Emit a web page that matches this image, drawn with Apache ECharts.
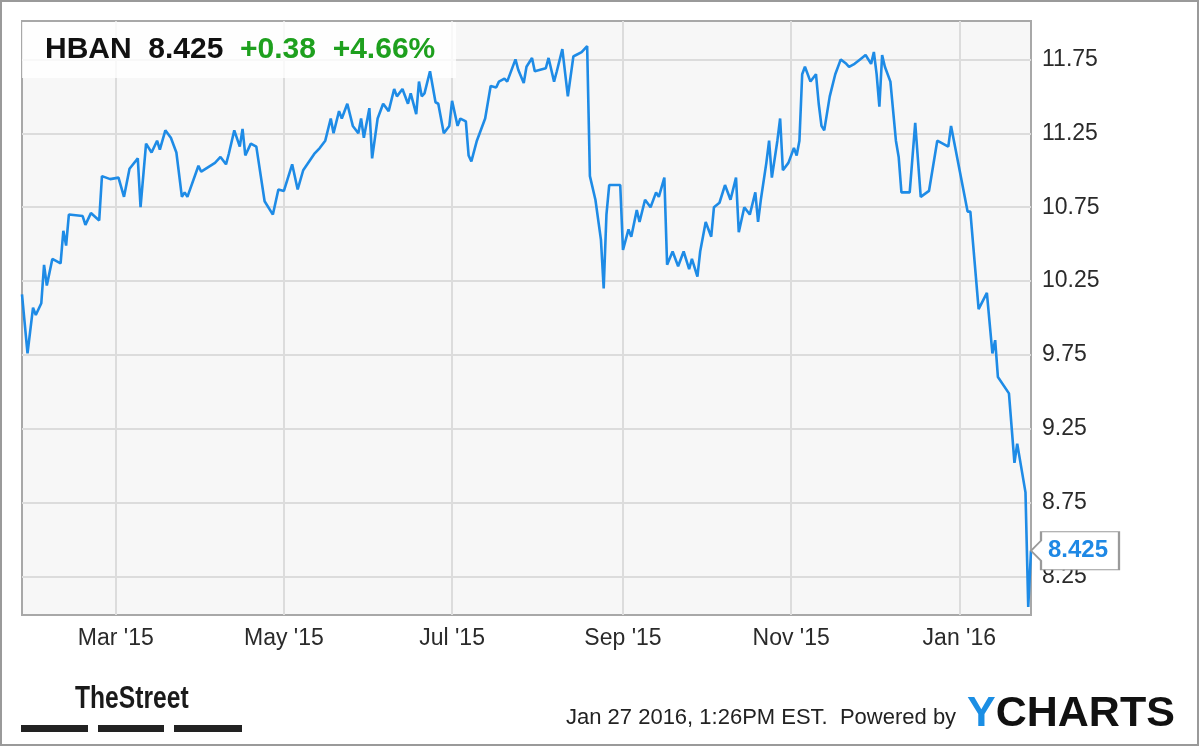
<!DOCTYPE html>
<html>
<head>
<meta charset="utf-8">
<script src="https://cdn.jsdelivr.net/npm/echarts@6/dist/echarts.min.js"></script>
<style>
html,body{margin:0;padding:0;background:#fff;}
#chart{width:1200px;height:747px;}
</style>
</head>
<body>
<div id="chart"></div>
<script>
// ---- data ----
const dates = [
'2015-01-26','2015-01-28','2015-01-30','2015-01-31','2015-02-02','2015-02-03','2015-02-04','2015-02-06','2015-02-09','2015-02-10',
'2015-02-11','2015-02-12','2015-02-17','2015-02-18','2015-02-20','2015-02-23','2015-02-24','2015-02-27','2015-03-02','2015-03-04',
'2015-03-06','2015-03-09','2015-03-10','2015-03-12','2015-03-14','2015-03-16','2015-03-17','2015-03-19','2015-03-21','2015-03-23',
'2015-03-25','2015-03-26','2015-03-27','2015-03-31','2015-04-01','2015-04-06','2015-04-08','2015-04-10','2015-04-11','2015-04-13',
'2015-04-15','2015-04-16','2015-04-17','2015-04-19','2015-04-21','2015-04-24','2015-04-27','2015-04-29','2015-05-01','2015-05-04',
'2015-05-06','2015-05-08','2015-05-12','2015-05-14','2015-05-16','2015-05-18','2015-05-19','2015-05-21','2015-05-22','2015-05-24',
'2015-05-26','2015-05-28','2015-05-29','2015-05-30','2015-06-01','2015-06-02','2015-06-04','2015-06-06','2015-06-08','2015-06-10',
'2015-06-11','2015-06-13','2015-06-15','2015-06-16','2015-06-18','2015-06-19','2015-06-20','2015-06-21','2015-06-23','2015-06-25',
'2015-06-26','2015-06-28','2015-06-30','2015-07-01','2015-07-03','2015-07-04','2015-07-06','2015-07-07','2015-07-08','2015-07-10',
'2015-07-13','2015-07-15','2015-07-17','2015-07-18','2015-07-20','2015-07-21','2015-07-24','2015-07-25','2015-07-27','2015-07-28',
'2015-07-30','2015-07-31','2015-08-02','2015-08-04','2015-08-05','2015-08-07','2015-08-08','2015-08-10','2015-08-12','2015-08-14',
'2015-08-15','2015-08-17','2015-08-19','2015-08-20','2015-08-22','2015-08-24','2015-08-25','2015-08-26','2015-08-27','2015-08-29',
'2015-08-31','2015-09-01','2015-09-03','2015-09-04','2015-09-06','2015-09-07','2015-09-09','2015-09-11','2015-09-13','2015-09-14',
'2015-09-16','2015-09-17','2015-09-19','2015-09-21','2015-09-23','2015-09-25','2015-09-26','2015-09-28','2015-09-29','2015-10-01',
'2015-10-03','2015-10-04','2015-10-06','2015-10-08','2015-10-10','2015-10-12','2015-10-13','2015-10-15','2015-10-17','2015-10-19',
'2015-10-20','2015-10-21','2015-10-23','2015-10-24','2015-10-25','2015-10-27','2015-10-28','2015-10-29','2015-10-31','2015-11-02',
'2015-11-03','2015-11-04','2015-11-05','2015-11-06','2015-11-08','2015-11-10','2015-11-11','2015-11-12','2015-11-13','2015-11-15',
'2015-11-17','2015-11-19','2015-11-21','2015-11-22','2015-11-24','2015-11-26','2015-11-28','2015-11-30','2015-12-01','2015-12-02',
'2015-12-03','2015-12-04','2015-12-05','2015-12-07','2015-12-08','2015-12-09','2015-12-10','2015-12-11','2015-12-14','2015-12-16',
'2015-12-18','2015-12-21','2015-12-24','2015-12-28','2015-12-29','2016-01-04','2016-01-05','2016-01-08','2016-01-11','2016-01-13',
'2016-01-14','2016-01-15','2016-01-19','2016-01-21','2016-01-22','2016-01-25','2016-01-26','2016-01-27'
];
const prices = [
10.16,9.76,10.07,10.02,10.10,10.36,10.22,10.40,10.37,10.59,
10.49,10.70,10.69,10.63,10.71,10.66,10.96,10.94,10.95,10.82,
11.01,11.08,10.75,11.18,11.12,11.20,11.14,11.27,11.22,11.12,
10.82,10.85,10.82,11.03,10.99,11.05,11.09,11.04,11.11,11.27,
11.16,11.28,11.10,11.18,11.16,10.79,10.70,10.87,10.86,11.04,
10.87,11.00,11.11,11.15,11.20,11.35,11.25,11.40,11.35,11.45,
11.30,11.25,11.35,11.22,11.42,11.08,11.35,11.45,11.40,11.55,
11.50,11.55,11.45,11.52,11.38,11.60,11.50,11.52,11.67,11.46,
11.45,11.25,11.30,11.47,11.30,11.35,11.33,11.10,11.06,11.20,
11.35,11.57,11.56,11.60,11.62,11.60,11.75,11.68,11.59,11.70,
11.76,11.67,11.68,11.69,11.76,11.60,11.67,11.82,11.50,11.77,
11.78,11.80,11.84,10.96,10.80,10.53,10.20,10.70,10.90,10.90,
10.90,10.46,10.60,10.55,10.73,10.65,10.80,10.75,10.85,10.82,
10.95,10.36,10.45,10.35,10.45,10.33,10.40,10.28,10.45,10.65,
10.55,10.75,10.78,10.90,10.80,10.95,10.58,10.75,10.70,10.85,
10.65,10.80,11.05,11.20,10.95,11.20,11.35,11.00,11.05,11.15,
11.10,11.20,11.65,11.70,11.60,11.65,11.45,11.30,11.27,11.50,
11.65,11.75,11.72,11.70,11.72,11.75,11.78,11.72,11.80,11.65,
11.43,11.78,11.70,11.60,11.40,11.20,11.09,10.85,10.85,11.32,
10.82,10.86,11.20,11.16,11.30,10.72,10.72,10.06,10.17,9.76,
9.85,9.60,9.49,9.02,9.15,8.82,8.045,8.425
];
const monthTicks = ['2015-03-01','2015-05-01','2015-07-01','2015-09-01','2015-11-01','2016-01-01'];
const priceTicks = [8.25, 8.75, 9.25, 9.75, 10.25, 10.75, 11.25, 11.75];
const ticker = 'HBAN';
const lastPrice = 8.425;
const change = '+0.38';
const changePct = '+4.66%';
const stamp = 'Jan 27 2016, 1:26PM EST.  Powered by';
const monthNames = ['Jan','Feb','Mar','Apr','May','Jun','Jul','Aug','Sep','Oct','Nov','Dec'];

function toTs(s){ const p = s.split('-').map(Number); return new Date(p[0], p[1]-1, p[2]).getTime(); }

const seriesData = dates.map((d, i) => [toTs(d), prices[i]]);
const xTickTs = monthTicks.map(toTs);
const FONT = '"Liberation Sans", Arial, Helvetica, sans-serif';

const chart = echarts.init(document.getElementById('chart'), null, {renderer: 'canvas'});
chart.setOption({
  animation: false,
  backgroundColor: '#ffffff',
  grid: {
    left: 22, right: 169, top: 21, bottom: 132,
    show: true, backgroundColor: '#f7f7f7', borderColor: '#a8a8a8', borderWidth: 2
  },
  xAxis: {
    type: 'value',
    min: toTs('2015-01-26'), max: toTs('2016-01-27'),
    axisLine: {show: false},
    axisTick: {show: false, customValues: xTickTs},
    splitLine: {show: true, lineStyle: {color: '#dcdcdc', width: 2}},
    axisLabel: {
      customValues: xTickTs,
      margin: 12,
      color: '#2a2a2a', fontSize: 23, fontFamily: FONT,
      formatter: function (v) {
        const d = new Date(v);
        return monthNames[d.getMonth()] + " '" + String(d.getFullYear()).slice(2);
      }
    }
  },
  yAxis: {
    type: 'value', position: 'right',
    min: 7.99, max: 12.01,
    axisLine: {show: false},
    axisTick: {show: false, customValues: priceTicks},
    splitLine: {show: true, lineStyle: {color: '#dcdcdc', width: 2}},
    axisLabel: {
      customValues: priceTicks,
      margin: 11,
      color: '#2a2a2a', fontSize: 23, fontFamily: FONT,
      formatter: v => v.toFixed(2)
    }
  },
  series: [{
    type: 'line',
    data: seriesData,
    showSymbol: false,
    clip: false,
    lineStyle: {color: '#1e8be6', width: 2.6},
    itemStyle: {color: '#1e8be6'},
    markPoint: {
      silent: true,
      symbol: 'path://M0 19L10 9L10 0L88 0L88 38L10 38L10 29Z',
      symbolSize: [88, 38],
      symbolOffset: [44, 0],
      itemStyle: {color: '#ffffff', borderColor: '#9a9a9a', borderWidth: 1.5},
      label: {
        show: true, position: 'inside', offset: [3, 0],
        color: '#1e88e5', fontSize: 24, fontWeight: 'bold', fontFamily: FONT,
        formatter: p => p.value.toFixed(3)
      },
      data: [{coord: [toTs(dates[dates.length-1]), lastPrice], value: lastPrice}]
    }
  }],
  graphic: [
    {type: 'rect', z: 1, shape: {x: 22, y: 22, width: 434, height: 56}, style: {fill: 'rgba(255,255,255,0.8)'}},
    {type: 'text', z: 10, x: 45, y: 50, style: {
      text: '{k|' + ticker + '  ' + lastPrice.toFixed(3) + '}{g|  ' + change + '  ' + changePct + '}',
      verticalAlign: 'middle', align: 'left',
      rich: {
        k: {fontSize: 30, fontWeight: 'bold', fontFamily: FONT, fill: '#111111'},
        g: {fontSize: 30, fontWeight: 'bold', fontFamily: FONT, fill: '#1ea01e'}
      }
    }},
    {type: 'text', z: 10, x: 75, y: 699, scaleX: 0.77, style: {
      text: 'TheStreet', x: 0, y: 0, verticalAlign: 'middle', align: 'left',
      font: 'bold 32px ' + FONT, fill: '#1a1a1a'
    }},
    {type: 'rect', z: 10, shape: {x: 21, y: 725, width: 67, height: 7}, style: {fill: '#222'}},
    {type: 'rect', z: 10, shape: {x: 98, y: 725, width: 66, height: 7}, style: {fill: '#222'}},
    {type: 'rect', z: 10, shape: {x: 174, y: 725, width: 68, height: 7}, style: {fill: '#222'}},
    {type: 'text', z: 10, x: 566, y: 718, style: {
      text: stamp, verticalAlign: 'middle', align: 'left',
      font: '22px ' + FONT, fill: '#222'
    }},
    {type: 'text', z: 10, x: 967, y: 714, style: {
      text: '{b|Y}{k|CHARTS}', verticalAlign: 'middle', align: 'left',
      rich: {
        b: {fontSize: 43, fontWeight: 'bold', fontFamily: FONT, fill: '#1b8ee4'},
        k: {fontSize: 43, fontWeight: 'bold', fontFamily: FONT, fill: '#111111'}
      }
    }},
    {type: 'rect', z: 20, shape: {x: 1, y: 1, width: 1197, height: 744}, style: {fill: 'none', stroke: '#9a9a9a', lineWidth: 2}}
  ]
});
</script>
</body>
</html>
